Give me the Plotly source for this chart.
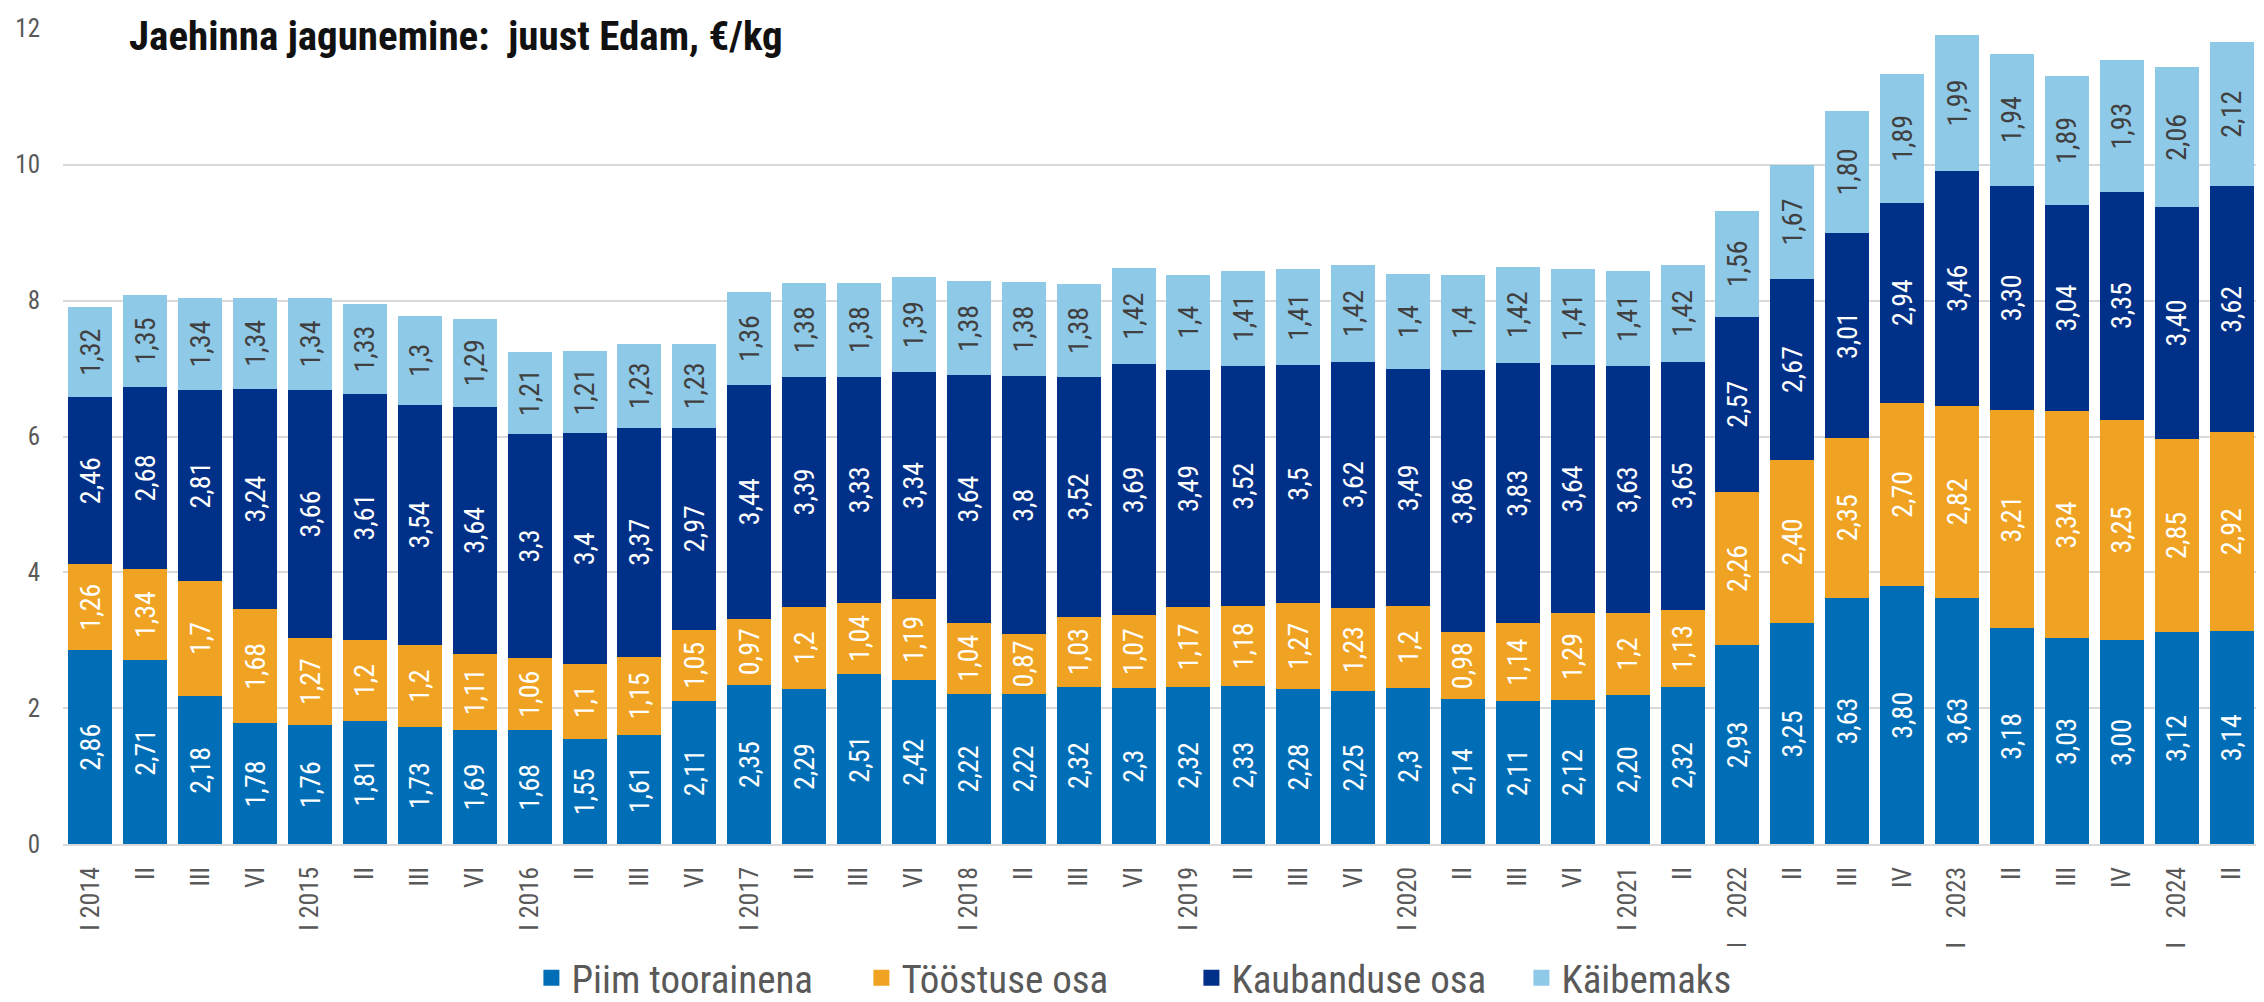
import plotly.graph_objects as go

# Periods (quarter labels as printed on the axis)
periods = [
    "I 2014", "II", "III", "VI",
    "I 2015", "II", "III", "VI",
    "I 2016", "II", "III", "VI",
    "I 2017", "II", "III", "VI",
    "I 2018", "II", "III", "VI",
    "I 2019", "II", "III", "VI",
    "I 2020", "II", "III", "VI",
    "I 2021", "II",
    "I\u00a0\u00a0\u00a0\u00a02022", "II", "III", "IV",
    "I\u00a0\u00a0\u00a0\u00a02023", "II", "III", "IV",
    "I\u00a0\u00a0\u00a0\u00a02024", "II",
]

# Values as shown in the chart labels (comma decimals)
piim = ["2,86", "2,71", "2,18", "1,78", "1,76", "1,81", "1,73", "1,69", "1,68", "1,55",
        "1,61", "2,11", "2,35", "2,29", "2,51", "2,42", "2,22", "2,22", "2,32", "2,3",
        "2,32", "2,33", "2,28", "2,25", "2,3", "2,14", "2,11", "2,12", "2,20", "2,32",
        "2,93", "3,25", "3,63", "3,80", "3,63", "3,18", "3,03", "3,00", "3,12", "3,14"]
toostus = ["1,26", "1,34", "1,7", "1,68", "1,27", "1,2", "1,2", "1,11", "1,06", "1,1",
           "1,15", "1,05", "0,97", "1,2", "1,04", "1,19", "1,04", "0,87", "1,03", "1,07",
           "1,17", "1,18", "1,27", "1,23", "1,2", "0,98", "1,14", "1,29", "1,2", "1,13",
           "2,26", "2,40", "2,35", "2,70", "2,82", "3,21", "3,34", "3,25", "2,85", "2,92"]
kaubandus = ["2,46", "2,68", "2,81", "3,24", "3,66", "3,61", "3,54", "3,64", "3,3", "3,4",
             "3,37", "2,97", "3,44", "3,39", "3,33", "3,34", "3,64", "3,8", "3,52", "3,69",
             "3,49", "3,52", "3,5", "3,62", "3,49", "3,86", "3,83", "3,64", "3,63", "3,65",
             "2,57", "2,67", "3,01", "2,94", "3,46", "3,30", "3,04", "3,35", "3,40", "3,62"]
kaibemaks = ["1,32", "1,35", "1,34", "1,34", "1,34", "1,33", "1,3", "1,29", "1,21", "1,21",
             "1,23", "1,23", "1,36", "1,38", "1,38", "1,39", "1,38", "1,38", "1,38", "1,42",
             "1,4", "1,41", "1,41", "1,42", "1,4", "1,4", "1,42", "1,41", "1,41", "1,42",
             "1,56", "1,67", "1,80", "1,89", "1,99", "1,94", "1,89", "1,93", "2,06", "2,12"]

FONT = "Liberation Sans Narrow, Roboto Condensed, Roboto, sans-serif"

series = [
    ("Piim toorainena", piim, "#006EB6", "white"),
    ("Tööstuse osa", toostus, "#F0A322", "white"),
    ("Kaubanduse osa", kaubandus, "#003087", "white"),
    ("Käibemaks", kaibemaks, "#8FC9E8", "#404040"),
]

x = list(range(len(periods)))

fig = go.Figure()
for name, labels, color, tcolor in series:
    fig.add_trace(go.Bar(
        x=x,
        y=[float(v.replace(",", ".")) for v in labels],
        name=name,
        showlegend=False,
        text=labels,
        textposition="inside",
        insidetextanchor="middle",
        textangle=-90,
        textfont=dict(family=FONT, size=28, color=tcolor),
        marker=dict(color=color, line=dict(width=0)),
    ))

# legend-only entries with bigger square swatches
for name, labels, color, tcolor in series:
    fig.add_trace(go.Scatter(
        x=[None], y=[None], mode="markers", name=name,
        marker=dict(symbol="square", size=22, color=color),
    ))

fig.add_annotation(
    text="<b>Jaehinna jagunemine:  juust Edam, €/kg</b>",
    xref="paper", yref="paper", x=0.029, y=0.978,
    xanchor="left", yanchor="middle", yshift=-6,
    showarrow=False,
    font=dict(family=FONT, size=41, color="#111111"),
)

fig.update_layout(
    barmode="stack",
    bargap=0.2,
    width=2264,
    height=1002,
    margin=dict(l=55, r=13, t=0, b=0),
    plot_bgcolor="white",
    paper_bgcolor="white",
    font=dict(family=FONT, color="#595959"),
    legend=dict(
        orientation="h",
        traceorder="normal",
        x=0.2133, xanchor="left",
        y=0.008, yanchor="middle",
        font=dict(family=FONT, size=39, color="#595959"),
        itemwidth=30,
        entrywidth=285,
    ),
    xaxis=dict(
        domain=[0, 1],
        automargin=False,
        tickmode="array",
        tickvals=x,
        ticktext=periods,
        tickangle=-90,
        tickfont=dict(family=FONT, size=26, color="#595959"),
        ticklabelstandoff=10,
        range=[-0.5, len(periods) - 0.5],
        showgrid=False,
        showline=True,
        linecolor="#D9D9D9",
        linewidth=2,
        ticks="",
    ),
    yaxis=dict(
        domain=[0.1447, 0.979],
        automargin=False,
        range=[0, 12],
        dtick=2,
        showgrid=True,
        gridcolor="#D9D9D9",
        gridwidth=2,
        zeroline=False,
        tickfont=dict(family=FONT, size=25, color="#595959"),
        ticklabelstandoff=22,
        ticks="",
    ),
)

fig.write_html("out.html")
